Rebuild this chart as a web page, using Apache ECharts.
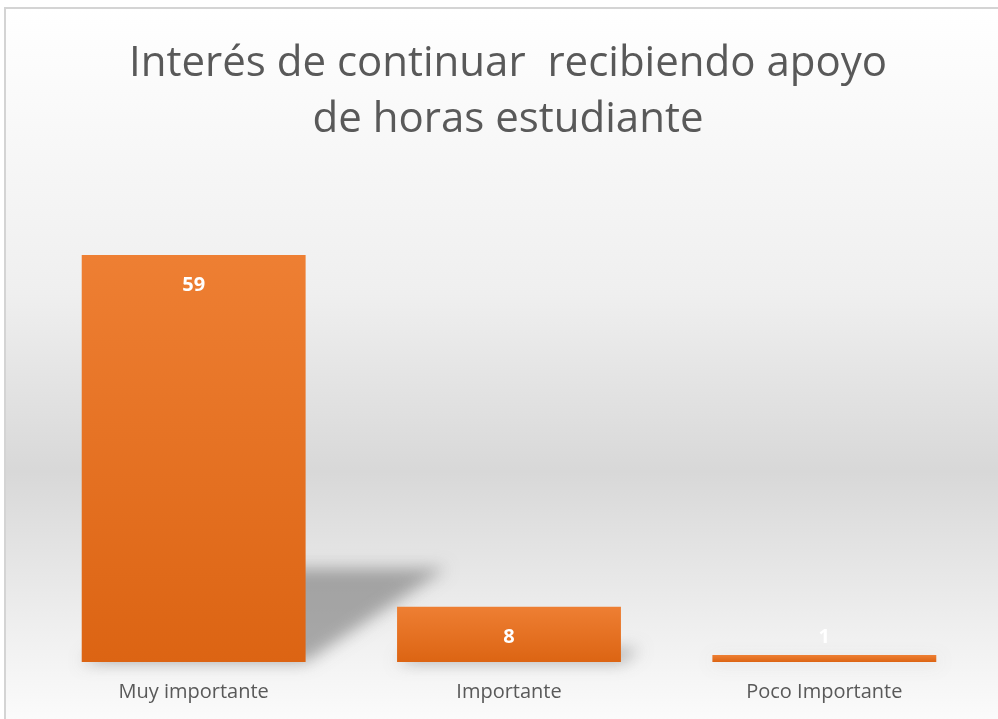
<!DOCTYPE html>
<html>
<head>
<meta charset="utf-8">
<script src="https://cdn.jsdelivr.net/npm/echarts@6/dist/echarts.min.js"></script>
<style>
  html, body { margin: 0; padding: 0; background: #ffffff; }
  #frame {
    position: absolute; left: 4px; top: 7px; width: 994px; height: 712px;
    border-left: 2px solid #d4d4d4; border-top: 2px solid #d4d4d4;
  }
  #chart { width: 100%; height: 100%; }
</style>
</head>
<body>
<div id="frame"><div id="chart"></div></div>
<script>
// datos
const titleLines = ['Interés de continuar  recibiendo apoyo', 'de horas estudiante']
const categories = ['Muy importante', 'Importante', 'Poco Importante']
const values = [59, 8, 1]

const chart = echarts.init(document.getElementById('chart'))

// sombra inclinada detrás de cada barra (perspectiva), solo el desenfoque
const OFF = 1500
const renderShadow = (params, api) => {
  const base = api.coord([api.value(0), 0])
  const top = api.coord([api.value(0), api.value(1)])
  const band = api.size([1, 0])[0]
  const w = band * 0.71
  const h = (base[1] - top[1]) * 0.23
  const dx = (base[1] - top[1]) * 0.345
  const x0 = base[0] - w / 2 - OFF
  return {
    type: 'polygon',
    shape: {
      points: [
        [x0, base[1]], [x0 + w, base[1]],
        [x0 + w + dx, base[1] - h], [x0 + dx, base[1] - h]
      ]
    },
    style: {
      fill: '#000',
      shadowBlur: 16,
      shadowOffsetX: OFF,
      shadowColor: 'rgba(105,105,105,0.55)'
    }
  }
}

const option = {
  backgroundColor: {
    type: 'linear', x: 0, y: 0, x2: 0, y2: 1,
    colorStops: [
      { offset: 0, color: '#ffffff' },
      { offset: 0.4, color: '#efefef' },
      { offset: 0.65, color: '#d8d8d8' },
      { offset: 0.87, color: '#efefef' },
      { offset: 1, color: '#fbfbfb' }
    ]
  },
  title: {
    text: titleLines.join('\n'),
    left: 497,
    top: 22,
    textAlign: 'center',
    textStyle: {
      fontFamily: 'Open Sans',
      fontSize: 42,
      fontWeight: 'normal',
      color: '#595959',
      lineHeight: 56
    }
  },
  grid: { left: 30, right: 18, top: 239, bottom: 59 },
  xAxis: {
    type: 'category',
    data: categories,
    axisLine: { show: false },
    axisTick: { show: false },
    axisLabel: {
      margin: 20,
      fontFamily: 'Open Sans',
      fontSize: 20,
      color: '#595959'
    }
  },
  yAxis: {
    type: 'value',
    min: 0,
    max: 60,
    show: false,
    splitLine: { show: false }
  },
  series: [
    {
      type: 'custom',
      renderItem: renderShadow,
      data: categories.map((c, i) => [i, values[i]]),
      clip: false,
      z: 1,
      silent: true
    },
    {
      type: 'bar',
      z: 2,
      barWidth: '71%',
      data: values.map(v => ({
        value: v,
        label: v < 3 ? { position: 'top', distance: 8 } : {}
      })),
      itemStyle: {
        color: {
          type: 'linear', x: 0, y: 0, x2: 0, y2: 1,
          colorStops: [
            { offset: 0, color: '#ee7f33' },
            { offset: 1, color: '#dc6413' }
          ]
        }
      },
      label: {
        show: true,
        position: 'insideTop',
        distance: 20,
        color: '#ffffff',
        fontFamily: 'Open Sans',
        fontWeight: 'bold',
        fontSize: 20
      }
    }
  ],
  animation: false
}

chart.setOption(option)
</script>
</body>
</html>
